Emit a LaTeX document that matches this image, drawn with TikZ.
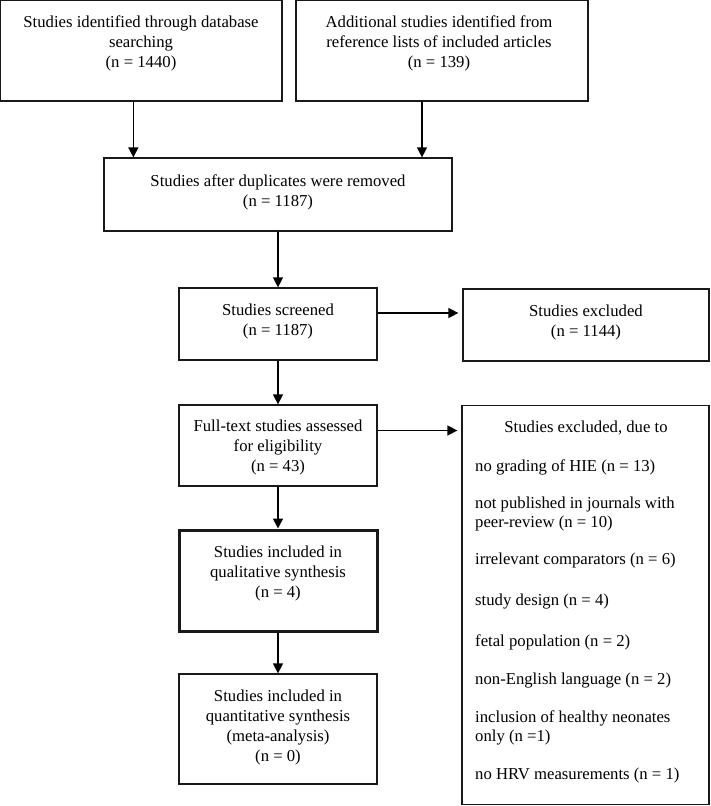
\documentclass[tikz,border=0pt]{standalone}
\usepackage{fontspec}
\setmainfont{Liberation Serif}
\usetikzlibrary{arrows.meta}
\begin{document}
\begin{tikzpicture}[x=1pt,y=-1pt,
  box/.style={draw=black!90, line width=1.3pt, inner sep=0pt},
  thickbox/.style={box, line width=3pt},
  txt/.style={align=center, inner sep=0pt, font=\fontsize{16.7}{20}\selectfont},
  ltxt/.style={align=left, anchor=west, inner sep=0pt, font=\fontsize{16.7}{19}\selectfont},
  arr/.style={line width=1.5pt, -{Triangle[length=10pt,width=10pt]}},
  sidearr/.style={arr, shorten >=4pt}
]
\useasboundingbox (0,0) rectangle (710,806);

% boxes
\node[box, minimum width=281.3pt, minimum height=100.3pt] (b1) at (141.35,50.85) {};
\node[box, minimum width=292pt, minimum height=100.3pt] (b2) at (442,50.85) {};
\node[box, minimum width=348pt, minimum height=73pt] (b3) at (278,194.5) {};
\node[box, minimum width=198pt, minimum height=72pt] (b4) at (278,324) {};
\node[box, minimum width=198pt, minimum height=81pt] (b5) at (278,445.5) {};
\node[thickbox, minimum width=198pt, minimum height=101pt] (b6) at (278,580.5) {};
\node[box, minimum width=198pt, minimum height=110pt] (b7) at (278,729) {};
\node[box, minimum width=246pt, minimum height=72pt] (ex1) at (586,325) {};
\node[box, minimum width=247pt, minimum height=399pt] (ex2) at (585.5,604.8) {};

% texts
\node[txt] (t1) at (141,43.5) {Studies identified through database\\searching\\(n = 1440)};
\node[txt] (t2) at (439,43.5) {Additional studies identified from\\reference lists of included articles\\(n = 139)};
\node[txt] (t3) at (278,192.5) {Studies after duplicates were removed\\(n = 1187)};
\node[txt] (t4) at (278,321) {Studies screened\\(n = 1187)};
\node[txt] (t5) at (278,447) {Full-text studies assessed\\for eligibility\\(n = 43)};
\node[txt] (t6) at (278,573) {Studies included in\\qualitative synthesis\\(n = 4)};
\node[txt] (t7) at (278,727) {Studies included in\\quantitative synthesis\\(meta-analysis)\\(n = 0)};
\node[txt] (te1) at (586,322) {Studies excluded\\(n = 1144)};
\node[txt] (te2) at (586,428) {Studies excluded, due to};
\node[ltxt] (l1) at (475,467) {no grading of HIE (n = 13)};
\node[ltxt] (l2) at (475,514) {not published in journals with\\peer-review (n = 10)};
\node[ltxt] (l3) at (475,560) {irrelevant comparators (n = 6)};
\node[ltxt] (l4) at (475,602) {study design (n = 4)};
\node[ltxt] (l5) at (475,642) {fetal population (n = 2)};
\node[ltxt] (l6) at (475,680) {non-English language (n = 2)};
\node[ltxt] (l7) at (475,727.5) {inclusion of healthy neonates\\only (n =1)};
\node[ltxt] (l8) at (475,775) {no HRV measurements (n = 1)};

% connectors
\draw[arr] ([xshift=-8pt]b1.south) -- ([xshift=-8pt]b1.south |- b3.north);
\draw[arr] ([xshift=-20pt]b2.south) -- ([xshift=-20pt]b2.south |- b3.north);
\draw[arr] (b3.south) -- (b4.north);
\draw[arr] (b4.south) -- (b5.north);
\draw[arr] (b5.south) -- (b6.north);
\draw[arr] (b6.south) -- (b7.north);
\draw[sidearr] ([yshift=11pt]b4.east) -- ([yshift=11pt]b4.east -| ex1.west);
\draw[sidearr] ([yshift=15pt]b5.east) -- ([yshift=15pt]b5.east -| ex2.west);
\end{tikzpicture}
\end{document}
